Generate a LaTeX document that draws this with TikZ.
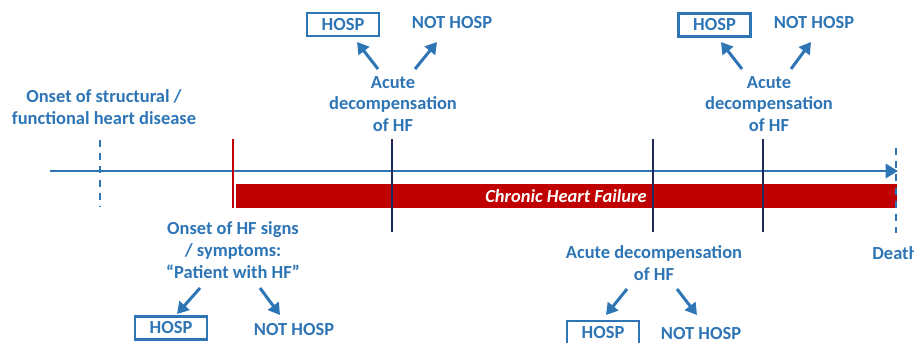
\documentclass[tikz,border=0pt]{standalone}
\usepackage{fontspec}
\setmainfont{Carlito}
\usetikzlibrary{arrows.meta}
\definecolor{hfblue}{HTML}{2E75B6}
\definecolor{hfred}{HTML}{C00000}
\definecolor{hfnavy}{HTML}{1F2A5C}
\tikzset{
  lbl/.style={text=hfblue,font=\bfseries\fontsize{10.5}{12.3}\selectfont,align=center,inner sep=0pt},
  hospbox/.style={lbl,draw=hfblue,line width=1.4pt,minimum width=1.44cm,minimum height=0.46cm},
  branch/.style={draw=hfblue,line width=1.7pt,-{Triangle[length=6.5pt,width=7.5pt]}},
  eventline/.style={draw=hfnavy,line width=1.2pt},
  dashtick/.style={draw=hfblue,line width=1.2pt,dash pattern=on 4pt off 3.5pt}
}
\begin{document}
\begin{tikzpicture}[x=0.02cm,y=-0.02cm]
    \useasboundingbox (0,0) rectangle (914,342);
    % chronic HF bar
    \fill[hfred] (236,184) rectangle (897,208);
    \node[font=\bfseries\itshape\fontsize{10.5}{12.3}\selectfont,text=white,inner sep=0pt] (chf) at (566,196) {Chronic Heart Failure};
    % time axis
    \coordinate (t0) at (50,171);
    \coordinate (t1) at (898,171);
    \draw[draw=hfblue,line width=1.7pt,-{Triangle[length=7pt,width=8pt]}] (t0) -- (t1);
    % ticks on the axis
    \coordinate (sdTop) at (100,140); \coordinate (sdBot) at (100,207);
    \coordinate (dTop) at (896,148); \coordinate (dBot) at (896,233);
    \draw[dashtick] (sdTop) -- (sdBot);
    \draw[dashtick] (dTop) -- (dBot);
    \coordinate (hfTop) at (233,139); \coordinate (hfBot) at (233,208);
    \draw[draw=hfred,line width=1.3pt] (hfTop) -- (hfBot);
    \foreach \xx/\nm in {392/adA,653/adC,763/adB}{
        \coordinate (\nm Top) at (\xx,139);
        \coordinate (\nm Bot) at (\xx,232);
        \draw[eventline] (\nm Top) -- (\nm Bot);
    }
    % labels
    \node[lbl] (onsetSD) at (104,107) {Onset of structural /\\functional heart disease};
    \node[lbl,anchor=west] (death) at (872,253) {Death};
    % acute decompensation, top left
    \node[lbl] (acA) at (393,104) {Acute\\decompensation\\of HF};
    \node[hospbox] (hospA) at (343,24.5) {HOSP};
    \node[lbl] (nhospA) at (452,23) {NOT HOSP};
    \coordinate (acAl) at (378,69); \coordinate (acAr) at (415,69);
    \coordinate (hospAt) at (357,42); \coordinate (nhospAt) at (437,42);
    \draw[branch] (acAl) -- (hospAt);
    \draw[branch] (acAr) -- (nhospAt);
    % acute decompensation, top right
    \node[lbl] (acB) at (769,104) {Acute\\decompensation\\of HF};
    \node[hospbox] (hospB) at (714.5,25) {HOSP};
    \node[lbl] (nhospB) at (814,23) {NOT HOSP};
    \coordinate (acBl) at (742,69); \coordinate (acBr) at (791,69);
    \coordinate (hospBt) at (721,42); \coordinate (nhospBt) at (811,42);
    \draw[branch] (acBl) -- (hospBt);
    \draw[branch] (acBr) -- (nhospBt);
    % onset of HF signs, bottom left
    \node[lbl] (onsetHF) at (233,250) {Onset of HF signs\\/ symptoms:\\``Patient with HF''};
    \node[hospbox] (hospS) at (171,328) {HOSP};
    \node[lbl] (nhospS) at (294,330) {NOT HOSP};
    \coordinate (onsetHFl) at (200,288); \coordinate (onsetHFr) at (260,288);
    \coordinate (hospSt) at (177,314); \coordinate (nhospSt) at (280,315);
    \draw[branch] (onsetHFl) -- (hospSt);
    \draw[branch] (onsetHFr) -- (nhospSt);
    % acute decompensation, bottom
    \node[lbl] (acC) at (654,263) {Acute decompensation\\of HF};
    \node[hospbox] (hospC) at (603,332.5) {HOSP};
    \node[lbl] (nhospC) at (701,334) {NOT HOSP};
    \coordinate (acCl) at (627,289); \coordinate (acCr) at (677,289);
    \coordinate (hospCt) at (606,315); \coordinate (nhospCt) at (697,315);
    \draw[branch] (acCl) -- (hospCt);
    \draw[branch] (acCr) -- (nhospCt);
\end{tikzpicture}
\end{document}
